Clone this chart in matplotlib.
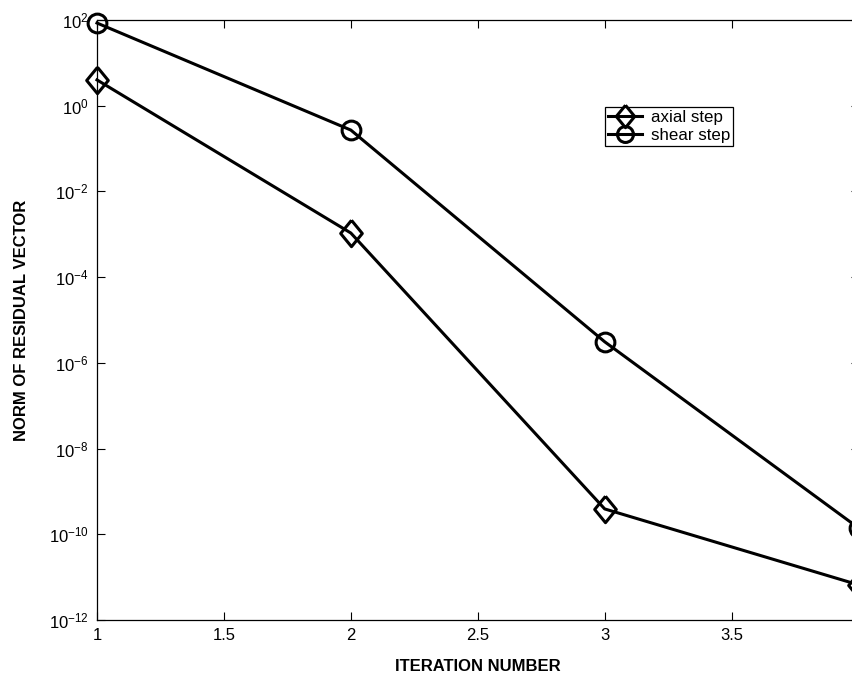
import numpy as np
import matplotlib.pyplot as plt
from matplotlib.ticker import LogLocator, NullLocator

plt.rcParams['font.family'] = ['Liberation Sans', 'DejaVu Sans']
plt.rcParams['mathtext.default'] = 'regular'

iterations = [1, 2, 3, 4]
axial_step = [4.0, 1.07e-3, 3.9e-10, 6.6e-12]
shear_step = [85.0, 0.27, 3.1e-6, 1.4e-10]

# slightly tall diamond, like the one drawn by the solver's plotting scripts
diamond = [(0, 1), (0.82, 0), (0, -1), (-0.82, 0), (0, 1)]

fig = plt.figure(figsize=(8.53, 6.73), dpi=100)
ax = fig.add_axes([0.1137, 0.0788, 0.8928, 0.8915])

ax.semilogy(iterations, axial_step, color='k', lw=2.2, marker=diamond,
            markersize=19, markerfacecolor='none', markeredgewidth=2.2,
            label='axial step', clip_on=False)
ax.semilogy(iterations, shear_step, color='k', lw=2.2, marker='o',
            markersize=13.5, markerfacecolor='none', markeredgewidth=2.2,
            label='shear step', clip_on=False)

ax.set_xlim(1, 4)
ax.set_ylim(1e-12, 1e2)
ax.set_xticks([1, 1.5, 2, 2.5, 3, 3.5])
ax.set_xticklabels(['1', '1.5', '2', '2.5', '3', '3.5'])
ax.yaxis.set_major_locator(LogLocator(base=100.0, numticks=20))
ax.yaxis.set_minor_locator(NullLocator())

ax.tick_params(direction='in', length=6, width=0.8, top=True, right=True,
               labelsize=12, pad=6)
for s in ax.spines.values():
    s.set_linewidth(0.9)

ax.set_xlabel('ITERATION NUMBER', fontsize=12, fontweight='bold', labelpad=11)
ax.set_ylabel('NORM OF RESIDUAL VECTOR', fontsize=12, fontweight='bold', labelpad=14)

leg = ax.legend(loc='upper left', bbox_to_anchor=(0.667, 0.855), fontsize=12.2,
                frameon=True, fancybox=False, edgecolor='k', framealpha=1,
                handlelength=2.0, handletextpad=0.5, borderpad=0.2,
                labelspacing=0.15, borderaxespad=0, markerscale=0.85)
leg.get_frame().set_linewidth(0.9)

fig.savefig('out.png', dpi=100)
